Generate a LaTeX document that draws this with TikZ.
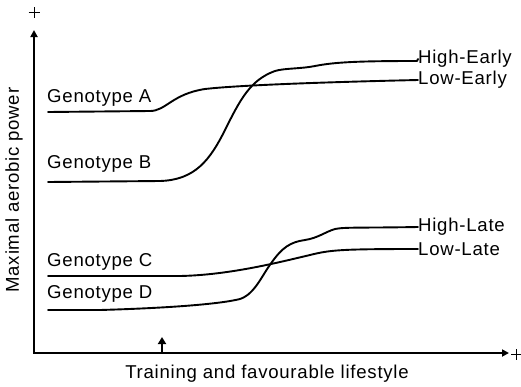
\documentclass[tikz,border=0pt]{standalone}
\usepackage{fontspec}
\setmainfont{Liberation Sans}[LetterSpace=4]
\usetikzlibrary{arrows.meta}
\begin{document}
\begin{tikzpicture}[x=1pt,y=-1pt,
  curve/.style={line width=1.9pt, line cap=round, line join=round},
  axis/.style={line width=1.8pt, -{Triangle[length=7pt,width=7pt]}},
  lbl/.style={font=\fontsize{18.6}{21}\selectfont, inner sep=0pt},
  endlbl/.style={lbl, anchor=west},
  plus/.style={line width=0.9pt}]
\useasboundingbox (0,0) rectangle (521,386);
% axes
\coordinate (o) at (34,353);
\coordinate (ytop) at (34,30);
\coordinate (xend) at (509,353);
\draw[axis] (o) -- (ytop);
\draw[axis, shorten <=-0.9pt] (o) -- (xend);
\coordinate (tickb) at (162,353);
\coordinate (ticka) at (162,337);
\draw[line width=1.8pt, -{Triangle[length=7pt,width=8pt]}] (tickb) -- (ticka);
% plus signs
\coordinate (pt) at (34,12);
\coordinate (pr) at (516,354);
\draw[plus] ([xshift=-5.5pt]pt) -- ([xshift=5.5pt]pt) ([yshift=-5.5pt]pt) -- ([yshift=5.5pt]pt);
\draw[plus] ([xshift=-5pt]pr) -- ([xshift=5pt]pr) ([yshift=-5.5pt]pr) -- ([yshift=5.5pt]pr);
% axis labels
\node[lbl] (xl) at (267,374) {Training and favourable lifestyle};
\node[lbl, rotate=90] (yl) at (14,190) {Maximal aerobic power};
% genotype labels
\node[lbl, anchor=west] (ga) at (47,98) {Genotype A};
\node[lbl, anchor=west] (gb) at (47,164) {Genotype B};
\node[lbl, anchor=west] (gc) at (47,262) {Genotype C};
\node[lbl, anchor=west] (gd) at (47,294) {Genotype D};
% end labels
\node[endlbl] (he) at (418,59) {High-Early};
\node[endlbl] (le) at (418,80) {Low-Early};
\node[endlbl] (hl) at (418,227) {High-Late};
\node[endlbl] (ll) at (418,249) {Low-Late};
% curves
\draw[curve] (48,112) -- (150,111) .. controls (166,111) and (172,94) .. (205,89)
  .. controls (240,85) and (330,82) .. (le.west);
\draw[curve] (48,182) -- (160,181) .. controls (195,180) and (210,160) .. (225,130)
  .. controls (240,100) and (250,80) .. (275,71)
  .. controls (285,68) and (300,69) .. (315,66)
  .. controls (335,62) and (360,61) .. (417,61) -- (he.west);
\draw[curve] (48,276) -- (180,276) .. controls (230,275) and (280,262) .. (310,255)
  .. controls (330,250) and (340,249) .. (ll.west);
\draw[curve] (48,310) -- (100,310) .. controls (170,308) and (220,304) .. (240,299)
  .. controls (255,294) and (262,275) .. (272,262)
  .. controls (282,248) and (290,242) .. (305,240)
  .. controls (318,238) and (325,232) .. (335,229)
  .. controls (345,227) and (360,228) .. (hl.west);
\end{tikzpicture}
\end{document}
